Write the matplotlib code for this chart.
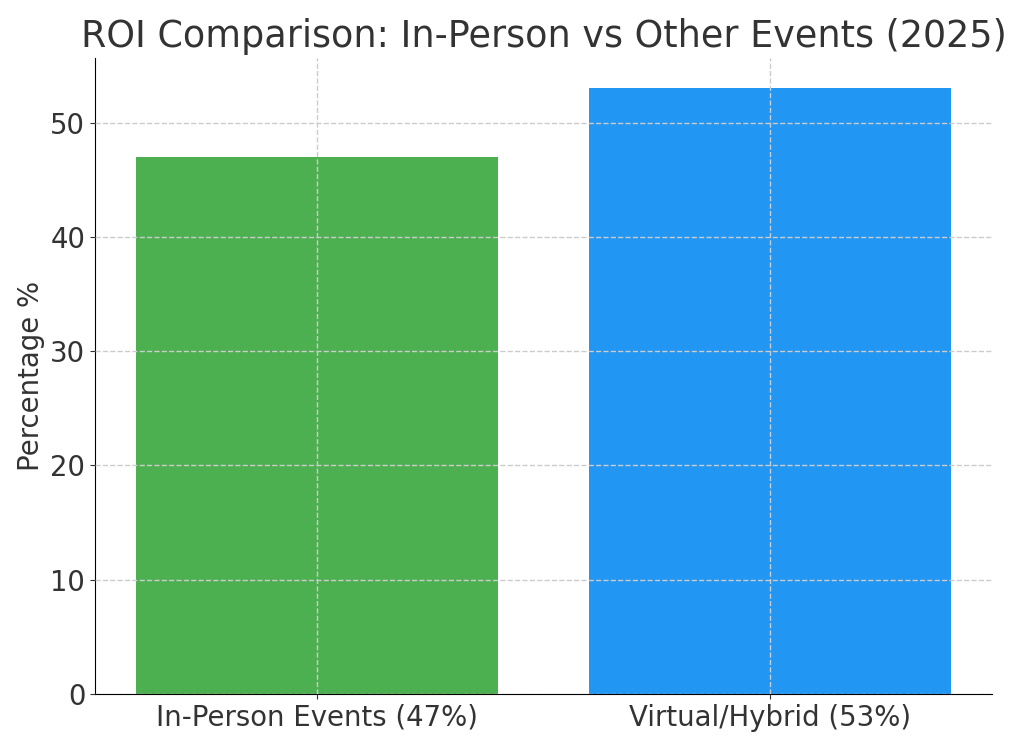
import matplotlib.pyplot as plt

# datos del gráfico
categorias = ["In-Person Events (47%)", "Virtual/Hybrid (53%)"]
valores = [47, 53]
colores = ["#4CAF50", "#2196F3"]

fig, ax = plt.subplots(figsize=(10.24, 7.46), dpi=100)
fig.subplots_adjust(left=95 / 1024, right=992 / 1024,
                    top=1 - 58 / 746, bottom=1 - 694 / 746)

ax.bar(categorias, valores, color=colores, width=0.8)

ax.set_title("ROI Comparison: In-Person vs Other Events (2025)",
             fontsize=26.3, color="#333333", pad=8)
ax.set_ylabel("Percentage %", fontsize=19.8, color="#333333")

ax.tick_params(axis="both", labelsize=19.8, colors="#333333")
ax.grid(True, linestyle="--", color="#cccccc", linewidth=1)
ax.set_axisbelow(False)

ax.spines["top"].set_visible(False)
ax.spines["right"].set_visible(False)

plt.savefig("out.png", dpi=100)
